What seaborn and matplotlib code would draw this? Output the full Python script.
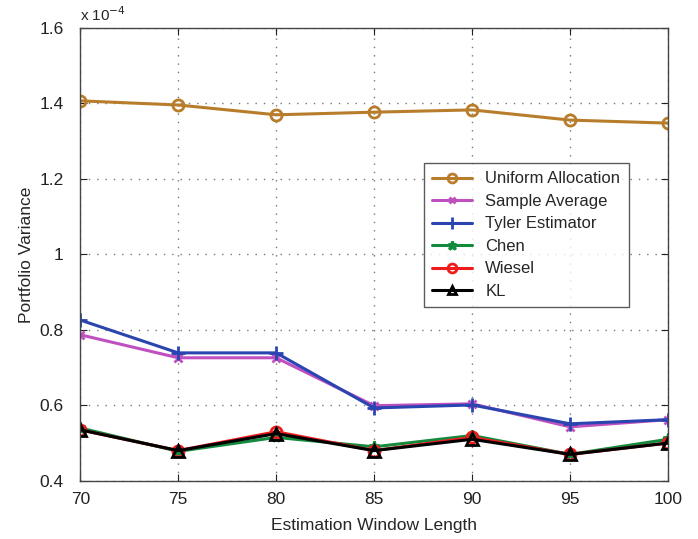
import numpy as np
import pandas as pd
import matplotlib
matplotlib.use("Agg")
import matplotlib.pyplot as plt
import seaborn as sns

# window lengths and portfolio variances (x 1e-4)
window = [70, 75, 80, 85, 90, 95, 100]
uniform = [1.407, 1.396, 1.370, 1.377, 1.383, 1.356, 1.348]
sample_avg = [0.787, 0.726, 0.726, 0.599, 0.604, 0.543, 0.562]
tyler = [0.826, 0.739, 0.739, 0.593, 0.601, 0.551, 0.562]
chen = [0.540, 0.478, 0.515, 0.490, 0.520, 0.470, 0.510]
wiesel = [0.535, 0.480, 0.530, 0.480, 0.515, 0.470, 0.500]
kl = [0.535, 0.480, 0.525, 0.480, 0.510, 0.470, 0.500]

series = {
    "Uniform Allocation": uniform,
    "Sample Average": sample_avg,
    "Tyler Estimator": tyler,
    "Chen": chen,
    "Wiesel": wiesel,
    "KL": kl,
}
styles = {
    "Uniform Allocation": ("#b87d2a", "o", "none", 8),
    "Sample Average": ("#c04fc0", "x", None, 6),
    "Tyler Estimator": ("#2a45b0", "+", None, 10),
    "Chen": ("#138a3e", "*", None, 8),
    "Wiesel": ("#ee1c1c", "o", "none", 8),
    "KL": ("#000000", "^", "none", 8),
}

sns.set_style("ticks")
plt.rcParams["font.family"] = ["Liberation Sans", "DejaVu Sans"]

fig = plt.figure(figsize=(6.98, 5.39), dpi=100)
ax = fig.add_axes([0.115, 0.108, 0.842, 0.840])

for name, vals in series.items():
    color, marker, mfc, ms = styles[name]
    df = pd.DataFrame({"x": window, "y": vals})
    kw = dict(marker=marker, markersize=ms, markeredgewidth=2)
    if mfc is not None:
        kw["markerfacecolor"] = mfc
    sns.lineplot(data=df, x="x", y="y", ax=ax, color=color, linewidth=2.2,
                 label=name, markeredgecolor=color, **kw)

ax.set_xlim(70, 100)
ax.set_ylim(0.4, 1.6)
ax.set_xticks(window)
ax.set_yticks([0.4, 0.6, 0.8, 1.0, 1.2, 1.4, 1.6])
ax.set_yticklabels(["0.4", "0.6", "0.8", "1", "1.2", "1.4", "1.6"])
ax.tick_params(direction="in", top=True, right=True, labelsize=12.5,
               length=5, colors="#222222")
ax.tick_params(axis="x", pad=8)
ax.tick_params(axis="y", pad=12)
ax.grid(True, linestyle=(0, (1, 5)), color="#777777", linewidth=1.0)
for s in ax.spines.values():
    s.set_color("#444444")
    s.set_linewidth(1.0)

ax.set_xlabel("Estimation Window Length", fontsize=12.5, labelpad=8)
ax.set_ylabel("Portfolio Variance", fontsize=12.5, labelpad=4)
ax.text(0.0, 1.008, "x 10$^{-4}$", transform=ax.transAxes, fontsize=11,
        ha="left", va="bottom")

leg = ax.legend(loc="upper left", bbox_to_anchor=(0.57, 0.72), fontsize=12,
                frameon=True, fancybox=False, edgecolor="#333333",
                borderpad=0.5, labelspacing=0.45, handlelength=2.4,
                markerscale=0.8)
leg.get_frame().set_linewidth(1.0)

fig.savefig("out.png", dpi=100, facecolor="white")
